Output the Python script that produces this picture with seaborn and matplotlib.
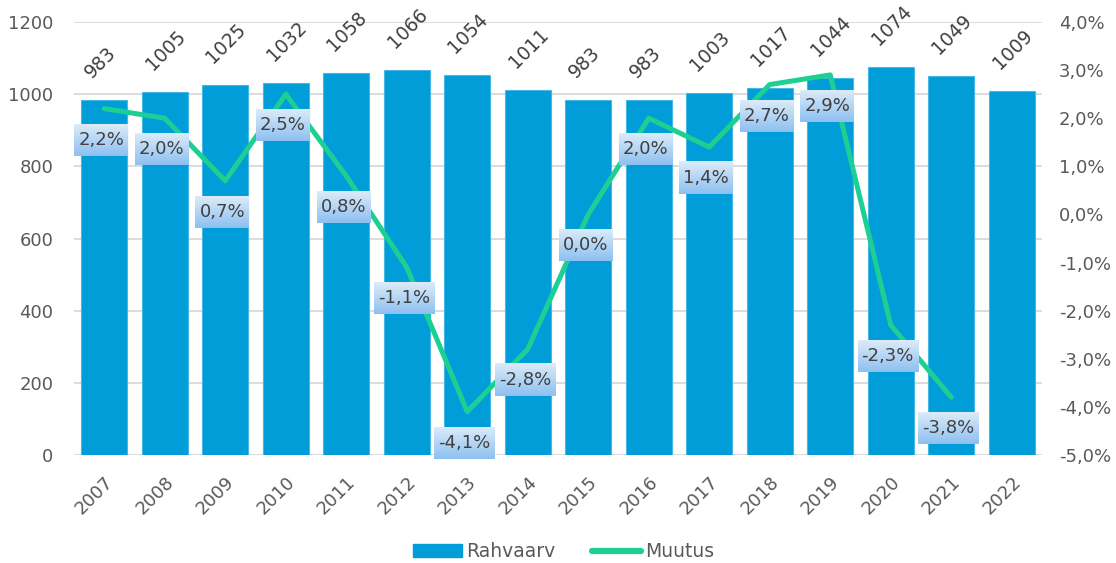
import numpy as np
import pandas as pd
import matplotlib
matplotlib.use('Agg')
import matplotlib.pyplot as plt
import seaborn as sns
from matplotlib.patches import Patch
from matplotlib.lines import Line2D
from matplotlib.colors import to_rgb

years = [str(y) for y in range(2007, 2023)]
rahvaarv = [983, 1005, 1025, 1032, 1058, 1066, 1054, 1011, 983, 983, 1003, 1017, 1044, 1074, 1049, 1009]
muutus = [2.2, 2.0, 0.7, 2.5, 0.8, -1.1, -4.1, -2.8, 0.0, 2.0, 1.4, 2.7, 2.9, -2.3, -3.8]
left_ticks = [0, 200, 400, 600, 800, 1000, 1200]
right_ticks = [-5, -4, -3, -2, -1, 0, 1, 2, 3, 4]

BAR = '#009DD9'
GREEN = '#1CCF93'
TXT = '#595959'
GRID = '#D9D9D9'

sns.set_theme(style='white')
plt.rcParams['font.family'] = ['DejaVu Sans']

W, H = 1116, 563
fig = plt.figure(figsize=(W / 100, H / 100), dpi=100)
ax = fig.add_axes([74 / W, 1 - 455 / H, (1042 - 74) / W, (455 - 22) / H])

df = pd.DataFrame({'year': years, 'Rahvaarv': rahvaarv})
sns.barplot(data=df, x='year', y='Rahvaarv', color=BAR, saturation=1, width=0.76,
            ax=ax, edgecolor='#45B8E6', linewidth=0.8, zorder=2)
ax.set_xlim(-0.5, len(years) - 0.5)
ax.set_ylim(0, 1200)
ax.set_yticks(left_ticks)
ax.set_yticklabels([str(t) for t in left_ticks])
ax.yaxis.grid(True, color=GRID, lw=1.3, zorder=0)
ax.set_axisbelow(True)
for s in ax.spines.values():
    s.set_visible(False)
ax.set_xlabel('')
ax.set_ylabel('')
ax.tick_params(axis='y', length=0, pad=15, labelsize=13, labelcolor=TXT)
ax.tick_params(axis='x', length=0, pad=13, labelsize=13, labelcolor=TXT)
for lab in ax.get_xticklabels():
    lab.set_rotation(45)
    lab.set_ha('right')
    lab.set_va('top')
    lab.set_rotation_mode('anchor')

# bar value labels
for i, v in enumerate(rahvaarv):
    ax.annotate(str(v), (i, v), xytext=(-12, 21), textcoords='offset pixels',
                rotation=45, rotation_mode='anchor', ha='left', va='baseline',
                fontsize=13.5, color='#404040')

ax2 = ax.twinx()
xs = np.arange(len(muutus))
sns.lineplot(x=xs, y=muutus, ax=ax2, color=GREEN, lw=3.6, zorder=3)
ax2.set_ylim(-5, 4)
ax2.set_yticks(right_ticks)
ax2.set_yticklabels([f"{t:.1f}".replace('.', ',') + '%' for t in right_ticks])
ax2.tick_params(axis='y', length=0, pad=12, labelsize=13, labelcolor=TXT)
for s in ax2.spines.values():
    s.set_visible(False)
ax2.set_ylabel('')
ax2.set_xlim(-0.5, len(years) - 0.5)

texts = []
for i, v in enumerate(muutus):
    t = ax2.annotate(f"{v:.1f}".replace('.', ',') + '%', (i, v), xytext=(-3, -31),
                     textcoords='offset pixels', ha='center', va='center',
                     fontsize=13, color='#404040', zorder=6, annotation_clip=False)
    texts.append(t)

fig.canvas.draw()
renderer = fig.canvas.get_renderer()
top = np.array(to_rgb('#DCEBF9'))
bot = np.array(to_rgb('#8DC0F0'))
n = 64
w = np.linspace(0, 1, n)[:, None]
grad = top[None, :] * (1 - w) + bot[None, :] * w
grad = np.repeat(grad[:, None, :], 2, axis=1)
inv = ax2.transData.inverted()
for t in texts:
    bb = t.get_window_extent(renderer)
    cx, cy = (bb.x0 + bb.x1) / 2, (bb.y0 + bb.y1) / 2
    hw = bb.width / 2 + 4
    hh = 16
    (dx0, dy0), (dx1, dy1) = inv.transform([(cx - hw, cy - hh), (cx + hw, cy + hh)])
    im = ax2.imshow(grad, extent=(dx0, dx1, dy0, dy1), aspect='auto', origin='upper',
                    interpolation='bilinear', zorder=5)
    im.set_clip_on(False)
ax2.set_xlim(-0.5, len(years) - 0.5)
ax2.set_ylim(-5, 4)

handles = [Patch(facecolor=BAR, edgecolor=BAR), Line2D([], [], color=GREEN, lw=4.5, solid_capstyle='round')]
fig.legend(handles, ['Rahvaarv', 'Muutus'], loc='lower center', bbox_to_anchor=(0.505, -0.027),
           ncol=2, frameon=False, fontsize=13.5, handlelength=2.6, handleheight=0.7,
           columnspacing=2.0, handletextpad=0.2, labelcolor=TXT)

fig.savefig('out.png', dpi=100)
